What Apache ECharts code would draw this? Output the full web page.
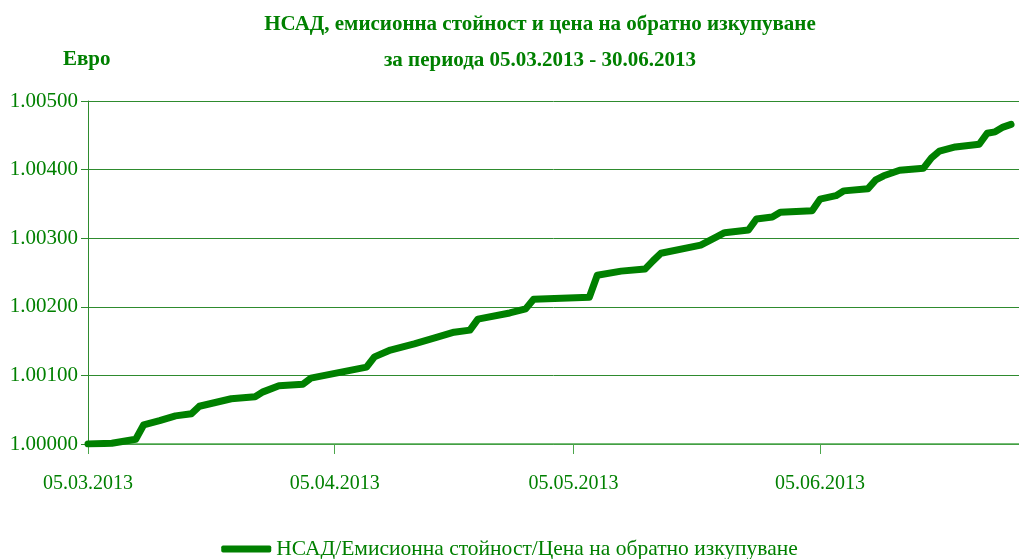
<!DOCTYPE html>
<html>
<head>
<meta charset="utf-8">
<title>НСАД</title>
<script src="https://cdn.jsdelivr.net/npm/echarts@6/dist/echarts.min.js"></script>
<style>
    html, body { margin: 0; padding: 0; background: #fff; }
    #chart { width: 1019px; height: 559px; }
</style>
</head>
<body>
<div id="chart"></div>
<script>
// readings taken at the corners of the line
var pointDates = ['05.03.2013', '08.03.2013', '11.03.2013', '12.03.2013', '14.03.2013', '16.03.2013',
    '18.03.2013', '19.03.2013', '23.03.2013', '26.03.2013', '27.03.2013', '29.03.2013',
    '01.04.2013', '02.04.2013', '09.04.2013', '10.04.2013', '12.04.2013', '15.04.2013',
    '18.04.2013', '20.04.2013', '22.04.2013', '23.04.2013', '27.04.2013', '29.04.2013',
    '30.04.2013', '07.05.2013', '08.05.2013', '11.05.2013', '14.05.2013', '15.05.2013',
    '16.05.2013', '21.05.2013', '23.05.2013', '24.05.2013', '27.05.2013', '28.05.2013',
    '30.05.2013', '31.05.2013', '04.06.2013', '05.06.2013', '07.06.2013', '08.06.2013',
    '11.06.2013', '12.06.2013', '13.06.2013', '15.06.2013', '18.06.2013', '19.06.2013',
    '20.06.2013', '22.06.2013', '25.06.2013', '26.06.2013', '27.06.2013', '28.06.2013',
    '29.06.2013'];
var navValues = [1.00000, 1.00001, 1.00007, 1.00028, 1.00034, 1.00041,
    1.00044, 1.00055, 1.00066, 1.00069, 1.00076, 1.00085,
    1.00087, 1.00096, 1.00112, 1.00127, 1.00137, 1.00146,
    1.00156, 1.00163, 1.00166, 1.00182, 1.00191, 1.00197,
    1.00211, 1.00214, 1.00246, 1.00252, 1.00255, 1.00267,
    1.00278, 1.00290, 1.00302, 1.00308, 1.00312, 1.00328,
    1.00331, 1.00338, 1.00340, 1.00357, 1.00362, 1.00369,
    1.00372, 1.00385, 1.00391, 1.00399, 1.00402, 1.00417,
    1.00427, 1.00433, 1.00437, 1.00453, 1.00455, 1.00462,
    1.00466];
var seriesName = 'НСАД/Емисионна стойност/Цена на обратно изкупуване';
var yMin = 1.000, yMax = 1.005, yStep = 0.001;

// every calendar day 05.03.2013 - 30.06.2013
function pad(n) { return (n < 10 ? '0' : '') + n; }
var categories = [];
var d = new Date(2013, 2, 5);
while (d <= new Date(2013, 5, 30)) {
    categories.push(pad(d.getDate()) + '.' + pad(d.getMonth() + 1) + '.' + d.getFullYear());
    d.setDate(d.getDate() + 1);
}
var lineData = categories.map(function (c) {
    var i = pointDates.indexOf(c);
    return i >= 0 ? navValues[i] : null;
});

var green = '#008000';
var font = 'Liberation Serif';
var showFifth = function (i, v) { return v.indexOf('05.') === 0; };

var chart = echarts.init(document.getElementById('chart'));
chart.setOption({
    animation: false,
    title: [
        {
            text: 'НСАД, емисионна стойност и цена на обратно изкупуване\nза периода 05.03.2013 - 30.06.2013',
            left: 535,
            textAlign: 'center',
            top: 2,
            textStyle: { color: green, fontFamily: font, fontWeight: 'bold', fontSize: 21, lineHeight: 36 }
        },
        {
            text: 'Евро',
            left: 58,
            top: 44,
            textStyle: { color: green, fontFamily: font, fontWeight: 'bold', fontSize: 21 }
        }
    ],
    legend: {
        data: [seriesName],
        left: 'center',
        top: 533,
        icon: 'roundRect',
        itemWidth: 50,
        itemHeight: 7,
        textStyle: { color: green, fontFamily: font, fontSize: 21.5 }
    },
    grid: { left: 88, right: 0, top: 101, bottom: 115 },
    xAxis: {
        type: 'category',
        boundaryGap: false,
        data: categories,
        axisLine: { lineStyle: { color: '#4ca64c', width: 1.5 } },
        axisTick: { interval: showFifth, length: 10, lineStyle: { color: '#4ca64c' } },
        axisLabel: { interval: showFifth, margin: 30, color: green, fontFamily: font, fontSize: 20 }
    },
    yAxis: {
        type: 'value',
        min: yMin,
        max: yMax,
        interval: yStep,
        axisLine: { show: true, lineStyle: { color: '#2e8b2e' } },
        axisTick: { show: true, length: 7, lineStyle: { color: '#2e8b2e' } },
        axisLabel: {
            margin: 10, color: green, fontFamily: font, fontSize: 21,
            formatter: function (v) { return v.toFixed(5); }
        },
        splitLine: { lineStyle: { color: '#2e8b2e', width: 1 } }
    },
    series: [{
        name: seriesName,
        type: 'line',
        data: lineData,
        connectNulls: true,
        showSymbol: false,
        symbol: 'none',
        lineStyle: { color: green, width: 7, cap: 'round', join: 'round' },
        itemStyle: { color: green }
    }]
});
</script>
</body>
</html>
